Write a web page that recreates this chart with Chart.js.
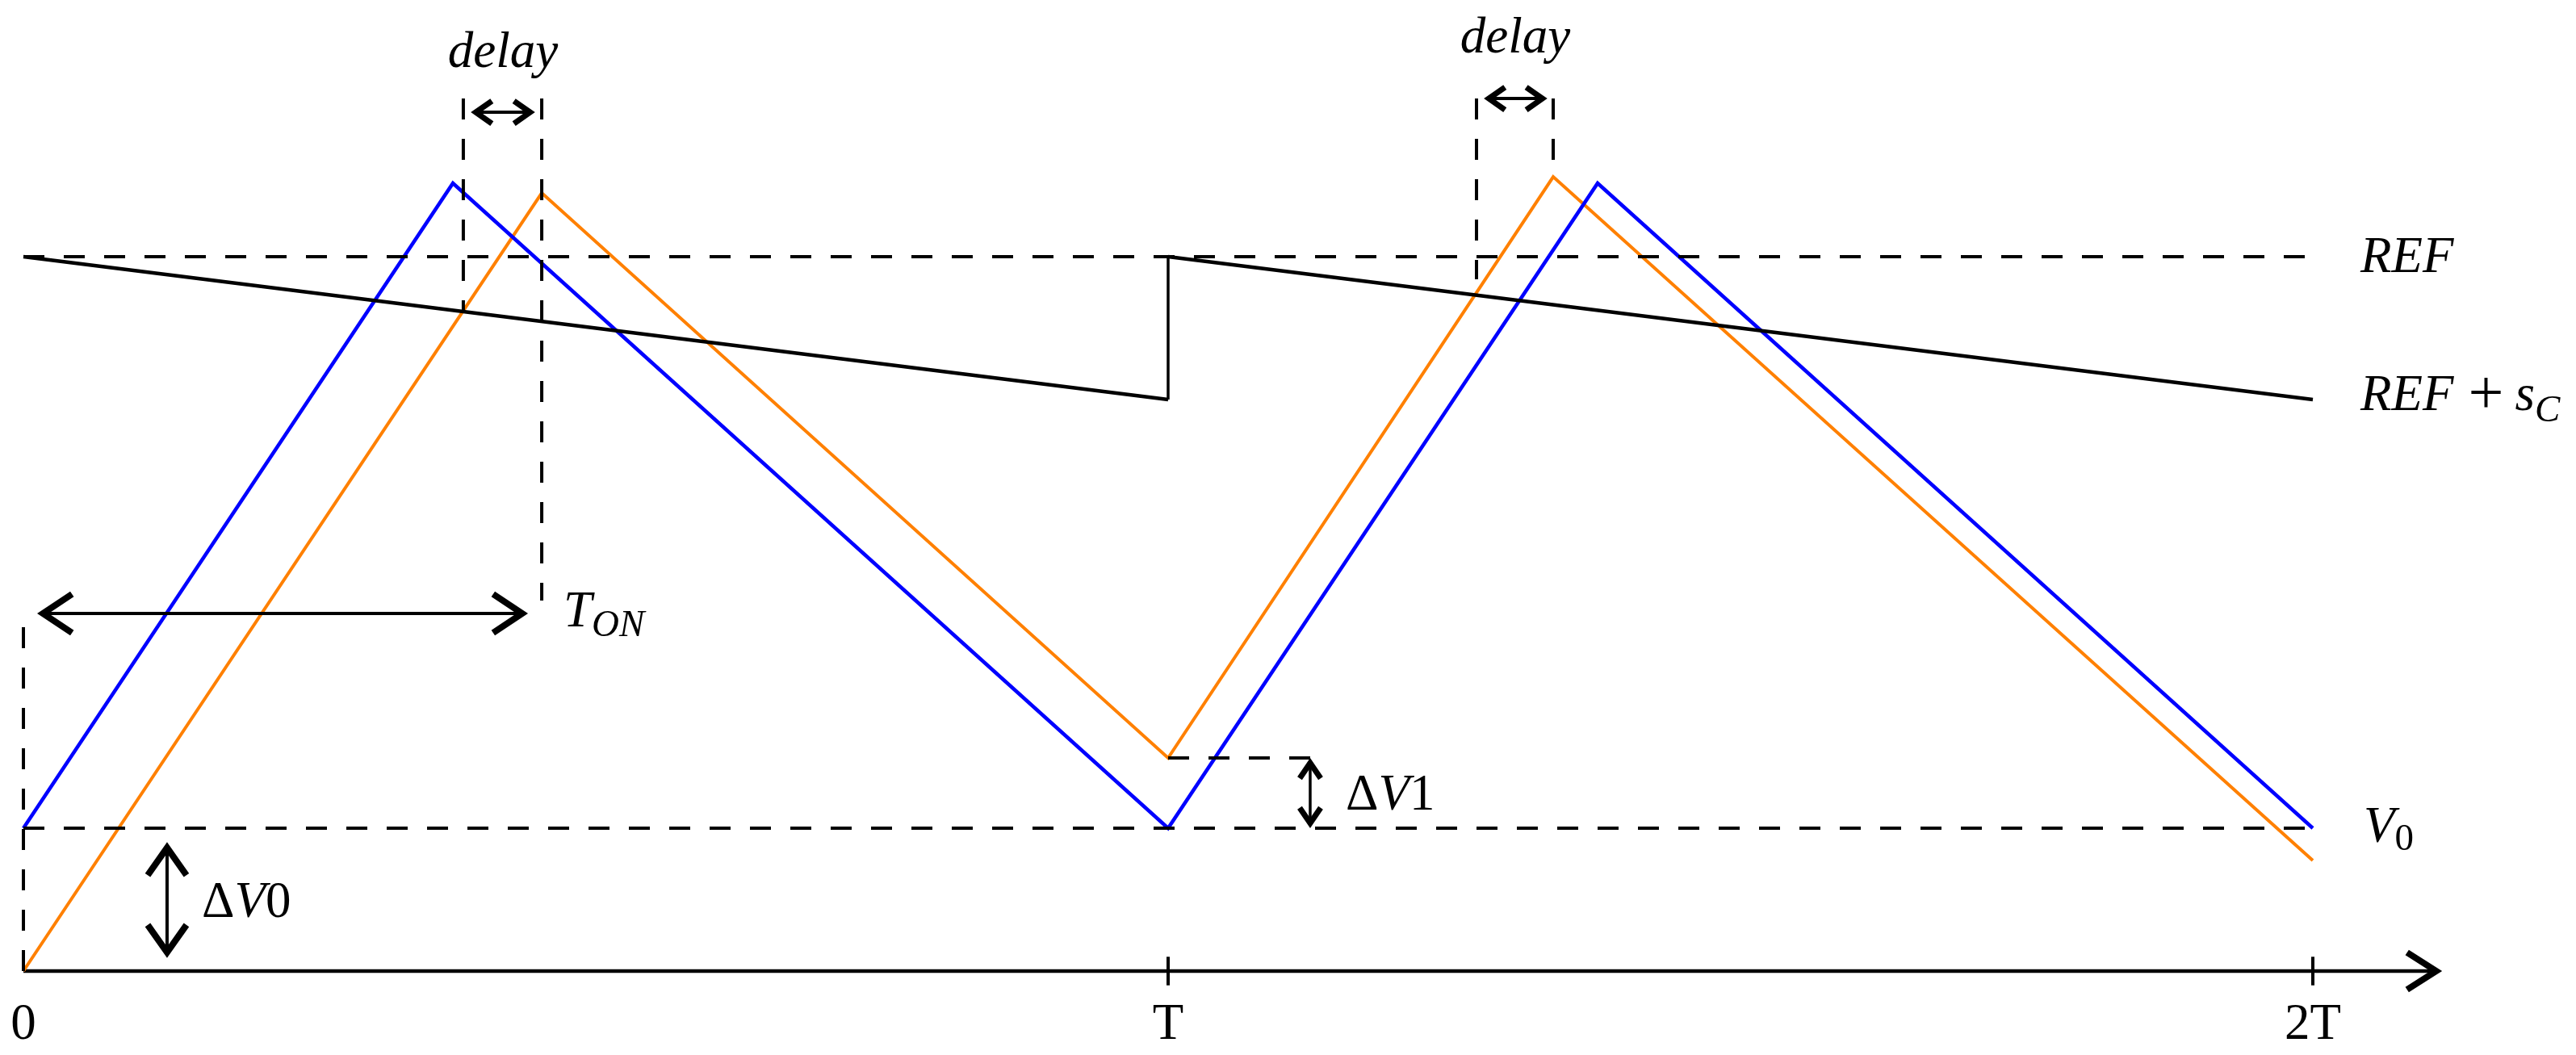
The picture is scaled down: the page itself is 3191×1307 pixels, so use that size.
<!DOCTYPE html>
<html><head><meta charset="utf-8">
<script src="https://cdn.jsdelivr.net/npm/chart.js@4/dist/chart.umd.min.js"></script>
<style>html,body{margin:0;padding:0;background:#fff;overflow:hidden}canvas{display:block}</style>
</head><body>
<canvas id="c" width="3191" height="1307"></canvas>
<script>
// ---------- data (x in periods T, y in units of V0) ----------
const xTickValues = [0, 1, 2];
const xTickLabels = ['0', 'T', '2T'];
const blueX   = [0, 0.3752, 1, 1.3752, 2];
const blueY   = [1.0, 5.514, 1.0, 5.514, 1.0];
const orangeX = [0, 0.4528, 1, 1.3364, 2];
const orangeY = [0, 5.446, 1.4915, 5.559, 0.774];
const rampX   = [0, 1, 1, 2];
const rampY   = [5, 4, 5, 4];
const refLevel = 5;
const v0Level = 1;
const axisEnd = 2.1128;
// dashed guide lines: [x1, y1, x2, y2]
const guideRef     = [0, refLevel, 2, refLevel];
const guideV0      = [0, v0Level, 2, v0Level];
const guideDV1     = [1, 1.4915, 1.1241, 1.4915];
const guideZero    = [0, 2.407, 0, -0.096];
const guideDelay1L = [0.3843, 6.107, 0.3843, 4.621];
const guideDelay1R = [0.4528, 6.107, 0.4528, 2.593];
const guideDelay2L = [1.2694, 6.107, 1.2694, 4.842];
const guideDelay2R = [1.3364, 6.107, 1.3364, 5.55];
// double arrows: [x1, y1, x2, y2]
const arrowTon    = [0.012, 2.503, 0.4408, 2.503];
const arrowDelay1 = [0.3907, 6.011, 0.4471, 6.011];
const arrowDelay2 = [1.2757, 6.107, 1.3314, 6.107];
const arrowDV0    = [0.1255, 0.904, 0.1255, 0.090];
const arrowDV1    = [1.1241, 1.4915, 1.1241, 1.0];
// label anchors [x, y]
const labelDelay1 = [0.4189, 6.328];
const labelDelay2 = [1.3032, 6.429];
const labelTon    = [0.4718, 2.415];
const labelRef    = [2.0416, 4.893];
const labelRefSc  = [2.0416, 3.927];
const labelV0     = [2.0444, 0.904];
const labelDV1    = [1.1551, 1.130];
const labelDV0    = [0.1559, 0.381];
const tickLabelY  = -0.4746;

// ---------- helpers ----------
const pts = (xs, ys) => xs.map((x, i) => ({x: x, y: ys[i]}));
const seg = s => [{x: s[0], y: s[1]}, {x: s[2], y: s[3]}];
const DASH = [26, 24];
function lineDS(data, color, width, dash) {
  return {data: data, showLine: true, borderColor: color, borderWidth: width,
          borderDash: dash || [], pointRadius: 0, fill: false, tension: 0,
          borderJoinStyle: 'miter', borderCapStyle: 'butt'};
}
const datasets = [
  lineDS(seg(guideRef), '#000', 4, DASH),
  lineDS(seg(guideV0), '#000', 4, DASH),
  lineDS(seg(guideDV1), '#000', 4, DASH),
  lineDS(seg(guideZero), '#000', 4, DASH),
  lineDS(seg(guideDelay1L), '#000', 4, DASH),
  lineDS(seg(guideDelay1R), '#000', 4, DASH),
  lineDS(seg(guideDelay2L), '#000', 4, DASH),
  lineDS(seg(guideDelay2R), '#000', 4, DASH),
  lineDS(pts(rampX.slice(0, 2), rampY.slice(0, 2)), '#000', 4.5),
  lineDS(pts(rampX.slice(1, 3), rampY.slice(1, 3)), '#000', 3.5),
  lineDS(pts(rampX.slice(2, 4), rampY.slice(2, 4)), '#000', 4.5),
  lineDS(pts(blueX, blueY), '#0000ff', 4.5),
  lineDS(pts(orangeX, orangeY), '#ff8000', 4),
  lineDS([{x: 0, y: 0}, {x: axisEnd - 0.004, y: 0}], '#000', 4.5),
];
xTickValues.slice(1).forEach(v => datasets.push(lineDS([{x: v, y: -0.1}, {x: v, y: 0.1}], '#000', 4)));

const SERIF = "'Liberation Serif', 'DejaVu Serif', serif";
const F_I = 'italic 63px ' + SERIF, F_R = '63px ' + SERIF;
const F_SI = 'italic 47px ' + SERIF, F_SR = '47px ' + SERIF;
const F_PLUS = '78px ' + SERIF;

function chevron(ctx, tx, ty, dx, dy, L, W, lw) {
  const nx = -dy, ny = dx;
  ctx.save();
  ctx.lineWidth = lw; ctx.lineJoin = 'miter'; ctx.lineCap = 'butt'; ctx.miterLimit = 10;
  ctx.strokeStyle = '#000';
  const off = lw * 0.9;
  const px = tx - dx * off, py = ty - dy * off;
  ctx.beginPath();
  ctx.moveTo(px - dx * L + nx * W, py - dy * L + ny * W);
  ctx.lineTo(px, py);
  ctx.lineTo(px - dx * L - nx * W, py - dy * L - ny * W);
  ctx.stroke();
  ctx.restore();
}
function dblArrow(ctx, sx, sy, a, L, W, hw, sw) {
  const x1 = sx.getPixelForValue(a[0]), y1 = sy.getPixelForValue(a[1]);
  const x2 = sx.getPixelForValue(a[2]), y2 = sy.getPixelForValue(a[3]);
  const len = Math.hypot(x2 - x1, y2 - y1), dx = (x2 - x1) / len, dy = (y2 - y1) / len;
  ctx.save();
  ctx.strokeStyle = '#000'; ctx.lineWidth = sw;
  ctx.beginPath(); ctx.moveTo(x1 + dx * 4, y1 + dy * 4); ctx.lineTo(x2 - dx * 4, y2 - dy * 4); ctx.stroke();
  ctx.restore();
  chevron(ctx, x2, y2, dx, dy, L, W, hw);
  chevron(ctx, x1, y1, -dx, -dy, L, W, hw);
}
function rich(ctx, x, y, parts, center) {
  ctx.save();
  ctx.fillStyle = '#000'; ctx.textBaseline = 'alphabetic'; ctx.textAlign = 'left';
  let total = 0;
  parts.forEach(p => { if (p.gap) total += p.gap; else { ctx.font = p.f; total += ctx.measureText(p.t).width; } });
  let cx = center ? x - total / 2 : x;
  parts.forEach(p => {
    if (p.gap) { cx += p.gap; return; }
    ctx.font = p.f;
    ctx.fillText(p.t, cx, y + (p.dy || 0));
    cx += ctx.measureText(p.t).width;
  });
  ctx.restore();
}

const annot = {
  id: 'annot',
  afterDatasetsDraw(chart) {
    const ctx = chart.ctx, sx = chart.scales.x, sy = chart.scales.y;
    const P = a => [sx.getPixelForValue(a[0]), sy.getPixelForValue(a[1])];
    chevron(ctx, sx.getPixelForValue(axisEnd), sy.getPixelForValue(0), 1, 0, 36, 23, 8);
    dblArrow(ctx, sx, sy, arrowTon, 36, 24, 8, 4);
    dblArrow(ctx, sx, sy, arrowDelay1, 20, 14, 7, 4);
    dblArrow(ctx, sx, sy, arrowDelay2, 20, 14, 7, 4);
    dblArrow(ctx, sx, sy, arrowDV0, 34, 24, 8, 4);
    dblArrow(ctx, sx, sy, arrowDV1, 19, 13, 7, 3.5);
    let p;
    p = P(labelDelay1); rich(ctx, p[0], p[1], [{t: 'delay', f: F_I}], true);
    p = P(labelDelay2); rich(ctx, p[0], p[1], [{t: 'delay', f: F_I}], true);
    p = P(labelTon); rich(ctx, p[0], p[1], [{t: 'T', f: F_I}, {t: 'ON', f: F_SI, dy: 12}]);
    p = P(labelRef); rich(ctx, p[0], p[1], [{t: 'REF', f: F_I}]);
    p = P(labelRefSc); rich(ctx, p[0], p[1], [{t: 'REF', f: F_I}, {gap: 18}, {t: '+', f: F_PLUS, dy: 4}, {gap: 14}, {t: 's', f: F_I}, {t: 'C', f: F_SI, dy: 14}]);
    p = P(labelV0); rich(ctx, p[0], p[1], [{t: 'V', f: F_I}, {t: '0', f: F_SR, dy: 10}]);
    p = P(labelDV1); rich(ctx, p[0], p[1], [{t: '\u0394', f: F_R}, {t: 'V', f: F_I}, {t: '1', f: F_R}]);
    p = P(labelDV0); rich(ctx, p[0], p[1], [{t: '\u0394', f: F_R}, {t: 'V', f: F_I}, {t: '0', f: F_R}]);
    xTickValues.forEach((v, i) => {
      rich(ctx, sx.getPixelForValue(v), sy.getPixelForValue(tickLabelY), [{t: xTickLabels[i], f: F_R}], true);
    });
  }
};

new Chart(document.getElementById('c'), {
  type: 'scatter',
  data: {datasets: datasets},
  options: {
    responsive: false, animation: false, devicePixelRatio: 1,
    layout: {padding: 0},
    plugins: {legend: {display: false}, tooltip: {enabled: false}},
    scales: {
      x: {type: 'linear', display: false, min: -29 / 1418, max: (3191 - 29) / 1418},
      y: {type: 'linear', display: false, min: -(1307 - 1203) / 177, max: 1203 / 177}
    }
  },
  plugins: [annot]
});
</script>
</body></html>
